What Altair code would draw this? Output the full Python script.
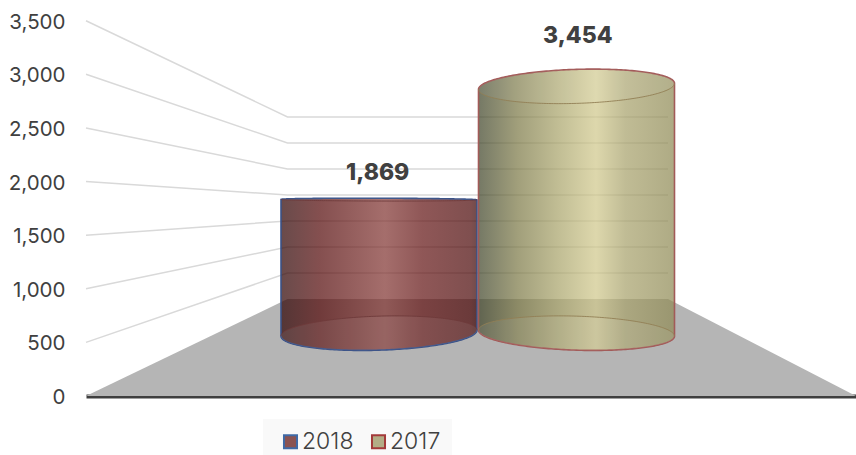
import altair as alt
import numpy as np
import pandas as pd

# Chart values
series = ["2018", "2017"]
values = [1869, 3454]
ticks = [0, 500, 1000, 1500, 2000, 2500, 3000, 3500]

# Drawing area and perspective of the 3D scene
PLOT_W, PLOT_H = 770, 375.3
PX_PER_UNIT = PLOT_H / 3500
HORIZON = 1727            # value seen edge-on, where a cylinder's ellipse collapses
BACK_LIFT = 97 / PX_PER_UNIT
BACK_RATIO = 0.485
WALL_LEFT, WALL_RIGHT = 201.5, 582
CYL_DEPTH = 0.648
LABEL_DEPTH = 0.377
CYL_CENTERS = [293, 490.5]
CYL_RADIUS = 98
ELLIPSE_H = 17
ELLIPSE_TILT = 3
SIDES = [-1, 1]
LABEL_SPREAD = 1.3


def on_plane(v, depth):
    """Height of value v on a vertical plane at the given depth, in front-wall units."""
    return BACK_LIFT * depth + np.asarray(v) * (1 - (1 - BACK_RATIO) * depth)


def arcs(center, side, v):
    """Upper and lower half of the ellipse a cylinder shows at value v."""
    t = np.linspace(np.pi, 0, 121)
    cos_t, sin_t = np.cos(t), np.sin(t)
    h = ELLIPSE_H * abs(v - HORIZON) / HORIZON
    tilt = ELLIPSE_TILT * side * (HORIZON - v) / HORIZON
    mid = on_plane(v, CYL_DEPTH) - tilt * cos_t / PX_PER_UNIT
    return (
        center + CYL_RADIUS * cos_t,
        mid + h * sin_t / PX_PER_UNIT,
        mid - h * sin_t / PX_PER_UNIT,
    )


def gradient(stops):
    return alt.Gradient(
        gradient="linear",
        x1=0, x2=1, y1=0, y2=0,
        stops=[alt.GradientStop(offset=o, color=c) for o, c in stops],
    )


x_scale = alt.Scale(domain=[0, PLOT_W], nice=False, zero=False)
y_scale = alt.Scale(domain=[0, 3500], nice=False, zero=False)
X = alt.X("x:Q", scale=x_scale, axis=alt.Axis(
    labels=False, ticks=False, grid=False, title=None,
    domainColor="#3f3f3f", domainWidth=4,
))
Y = alt.Y("y:Q", scale=y_scale, axis=alt.Axis(
    values=ticks, format=",.0f", title=None, grid=False, ticks=False, domain=False,
    labelFont="Inter", labelFontSize=20.5, labelColor="#404040",
    labelPadding=21, labelOffset=1.5,
))
Y2 = alt.Y2("y2:Q")

# Floor of the scene
back = on_plane(0, 1)
floor = pd.DataFrame({
    "x": [0, WALL_LEFT, WALL_RIGHT, PLOT_W],
    "y": [0, back, back, 0],
    "y2": [0, 0, 0, 0],
})
layers = [alt.Chart(floor).mark_area(fill="#b5b5b5").encode(x=X, y=Y, y2=Y2)]

# Gridlines: side wall running back from the value axis, then along the back wall
grid_rows = []
for t in ticks[1:]:
    grid_rows += [
        {"tick": t, "x": 0, "y": t},
        {"tick": t, "x": WALL_LEFT, "y": float(on_plane(t, 1))},
        {"tick": t, "x": WALL_RIGHT, "y": float(on_plane(t, 1))},
    ]
layers.append(
    alt.Chart(pd.DataFrame(grid_rows)).mark_line(color="#d9d9d9", strokeWidth=1.5).encode(
        x=X, y=Y, detail="tick:N"
    )
)

# Cylinders
body_stops = [
    [(0, "#2f0505"), (0.2, "#560c0c"), (0.53, "#823633"), (0.72, "#641616"), (0.97, "#4e0b0b"), (1, "#3a0707")],
    [(0, "#40452a"), (0.2, "#7d7a48"), (0.4, "#a8a36a"), (0.6, "#d0c88c"), (0.75, "#a8a26c"), (1, "#8f8a55")],
]
body_strokes = ["#3a5288", "#a25a58"]
rim_strokes = ["#6e3a3a", "#927f55"]

for center, side, v, stops, stroke, rim in zip(CYL_CENTERS, SIDES, values, body_stops, body_strokes, rim_strokes):
    top_x, top_up, top_low = arcs(center, side, v)
    base_x, base_up, base_low = arcs(center, side, 0)
    body = pd.DataFrame({"x": top_x, "y": top_up, "y2": base_low})
    layers.append(
        alt.Chart(body).mark_area(
            fill=gradient(stops), fillOpacity=0.72,
            stroke=stroke, strokeWidth=1.6,
        ).encode(x=X, y=Y, y2=Y2)
    )
    # Bottom face: lighter disc, with only its far edge drawn as a separate line
    base = pd.DataFrame({"x": base_x, "y": base_up, "y2": base_low})
    layers.append(
        alt.Chart(base).mark_area(fill="#ffffff", fillOpacity=0.07).encode(x=X, y=Y, y2=Y2)
    )
    layers.append(
        alt.Chart(base).mark_line(color=rim, strokeWidth=0.9).encode(x=X, y=Y)
    )
    # Top face: lighter disc, with only its near edge drawn as a separate line
    top = pd.DataFrame({"x": top_x, "y": top_up, "y2": top_low})
    layers.append(
        alt.Chart(top).mark_area(fill="#ffffff", fillOpacity=0.05).encode(x=X, y=Y, y2=Y2)
    )
    near_edge = pd.DataFrame({"x": top_x, "y": top_low})
    layers.append(
        alt.Chart(near_edge).mark_line(color=rim, strokeWidth=0.9).encode(x=X, y=Y)
    )

# Value labels above the cylinders
label_table = pd.DataFrame({
    "x": [c + s * LABEL_SPREAD for c, s in zip(CYL_CENTERS, SIDES)],
    "y": on_plane(values, LABEL_DEPTH),
    "value": values,
})
layers.append(
    alt.Chart(label_table).mark_text(
        font="Inter", fontSize=23, fontWeight=800, color="#404040", dy=-25, baseline="middle",
    ).encode(x=X, y=Y, text=alt.Text("value:Q", format=",.0f"))
)

# Legend, driven by an invisible point per series
legend_table = pd.DataFrame({"series": series, "x": [0, 0], "y": [0, 0]})
color_domain = alt.Scale(domain=series, range=["#8a5352", "#b3ad86"])
stroke_domain = alt.Scale(domain=series, range=["#3f6aa6", "#a33a3a"])
legend = alt.Legend(
    title=None, orient="none", legendX=177, legendY=398.3, direction="horizontal", columns=2,
    fillColor="#f9f9f9", padding=11, symbolType="square", symbolSize=170, symbolOffset=5,
    symbolStrokeWidth=2, symbolOpacity=1, labelFont="Inter", labelFontSize=23,
    labelFontWeight=300, labelColor="#404040", columnPadding=8, labelOffset=0,
)
layers.append(
    alt.Chart(legend_table).mark_point(shape="square", filled=True, opacity=0).encode(
        x=X, y=Y,
        fill=alt.Fill("series:N", scale=color_domain, legend=legend),
        stroke=alt.Stroke("series:N", scale=stroke_domain, legend=legend),
    )
)

chart = (
    alt.layer(*layers)
    .properties(
        width=PLOT_W,
        height=PLOT_H,
        background="#ffffff",
        autosize=alt.AutoSizeParams(type="none"),
        padding={"left": 86, "top": 20.7, "right": 0, "bottom": 59},
    )
    .configure_view(stroke=None)
)

chart.save("out.html", embed_options={"renderer": "svg", "actions": False})
